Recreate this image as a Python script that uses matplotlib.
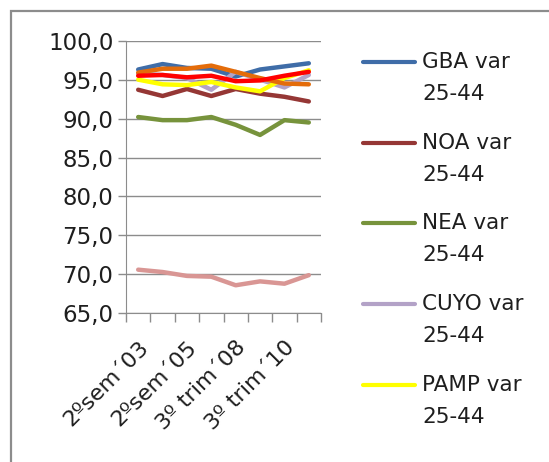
import matplotlib.pyplot as plt
import numpy as np
from matplotlib.lines import Line2D
from matplotlib.patches import Rectangle
from matplotlib.ticker import FuncFormatter

# periodos (solo se rotulan algunos)
periodos = ["2ºsem´03", "", "2ºsem´05", "", "3º trim´08", "", "3º trim´10", ""]

gba = [96.3, 97.0, 96.5, 96.4, 95.4, 96.3, 96.7, 97.1]
noa = [93.7, 92.9, 93.8, 92.9, 93.8, 93.2, 92.8, 92.2]
nea = [90.2, 89.8, 89.8, 90.2, 89.2, 87.9, 89.8, 89.5]
cuyo = [95.8, 95.6, 95.2, 93.7, 96.0, 95.0, 94.0, 95.6]
pamp = [95.0, 94.4, 94.3, 94.7, 94.0, 93.5, 95.2, 96.2]
pat = [95.9, 96.4, 96.4, 96.8, 96.0, 95.2, 94.5, 94.4]
total = [95.5, 95.6, 95.3, 95.5, 94.8, 94.9, 95.5, 96.0]
otro = [70.6, 70.3, 69.8, 69.7, 68.6, 69.1, 68.8, 69.9]

series = [
    ("GBA var", gba, "#3F6DA8"),
    ("NOA var", noa, "#953735"),
    ("NEA var", nea, "#77933C"),
    ("CUYO var", cuyo, "#B3A2C7"),
    ("PAMP var", pamp, "#FFFF00"),
    ("PAT var", pat, "#E46C0A"),
    ("Total var", total, "#FF0000"),
    ("Otro var", otro, "#D99694"),
]
n_leyenda = 5  # la leyenda queda cortada tras PAMP

W, H = 549, 462
plt.rcParams['font.family'] = ['DejaVu Sans']
fig = plt.figure(figsize=(W / 100, H / 100), dpi=100)
fig.patches.append(Rectangle((11 / W, -0.2), 1.5, 1 - 11 / H + 0.2,
                             transform=fig.transFigure, fill=False,
                             edgecolor="#8C8C8C", linewidth=1.6))

ax = fig.add_axes([126 / W, 1 - 313.3 / H, 195 / W, 272.6 / H])
x = np.arange(len(periodos))
for label, vals, color in series:
    ax.plot(x, vals, color=color, linewidth=3.2, label=label,
            solid_capstyle='round', solid_joinstyle='round')

ax.set_xlim(-0.5, len(periodos) - 0.5)
ax.set_ylim(65, 100)
ax.set_yticks(np.arange(65, 101, 5))
ax.yaxis.set_major_formatter(FuncFormatter(lambda v, p: f"{v:.1f}".replace(".", ",")))
ax.grid(axis='y', color="#8C8C8C", linewidth=1)
ax.set_axisbelow(True)

ax.set_xticks(np.arange(-0.5, len(periodos), 1))
ax.set_xticklabels([])
ax.set_xticks(x, minor=True)
ax.set_xticklabels(periodos, minor=True, rotation=45, ha='right',
                   rotation_mode='anchor', fontsize=16, color="#1E1E1E")
ax.tick_params(axis='x', which='major', length=6.5, color="#8C8C8C", width=1)
ax.tick_params(axis='x', which='minor', length=0, pad=17)
ax.tick_params(axis='y', length=6, color="#8C8C8C", width=1, labelsize=16.5,
               labelcolor="#1E1E1E", pad=3)

for s in ['top', 'right']:
    ax.spines[s].set_visible(False)
for s in ['left', 'bottom']:
    ax.spines[s].set_color("#8C8C8C")

# leyenda: linea a la altura del primer renglon, texto en dos renglones
for i, (label, vals, color) in enumerate(series[:n_leyenda]):
    yl = 62 + 80.7 * i
    fig.add_artist(Line2D([363 / W, 415 / W], [1 - yl / H, 1 - yl / H],
                          transform=fig.transFigure, color=color, linewidth=3,
                          solid_capstyle='round'))
    fig.text(422 / W, 1 - yl / H, label, fontsize=15.5, color="#1E1E1E",
             va='center', ha='left')
    fig.text(422 / W, 1 - (yl + 32) / H, "25-44", fontsize=15.5, color="#1E1E1E",
             va='center', ha='left')

fig.savefig("out.png", dpi=100)
